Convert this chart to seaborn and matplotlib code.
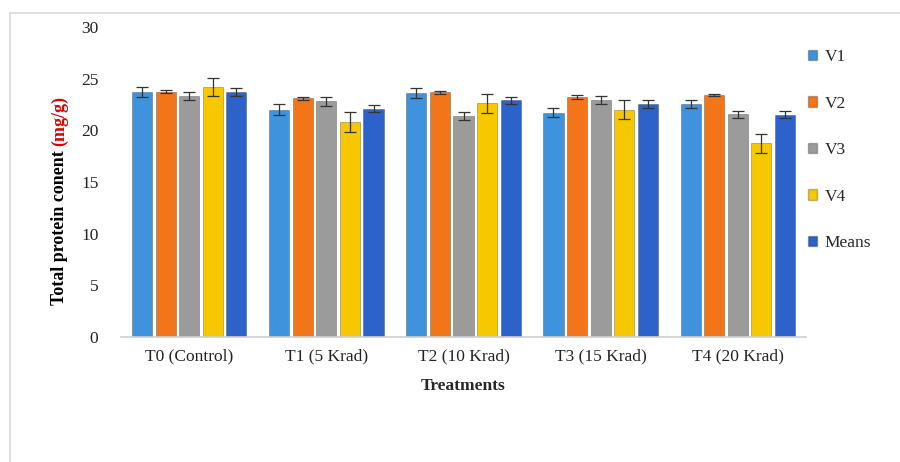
import numpy as np
import pandas as pd
import matplotlib.pyplot as plt
import seaborn as sns
from matplotlib.patches import Patch, Rectangle

# data
treatments = ['T0 (Control)', 'T1 (5 Krad)', 'T2 (10 Krad)', 'T3 (15 Krad)', 'T4 (20 Krad)']
series = ['V1', 'V2', 'V3', 'V4', 'Means']
v1 = [23.7, 22.0, 23.6, 21.7, 22.55]
v2 = [23.75, 23.1, 23.7, 23.2, 23.45]
v3 = [23.3, 22.8, 21.4, 22.9, 21.55]
v4 = [24.2, 20.8, 22.6, 22.0, 18.75]
means = [23.7, 22.1, 22.9, 22.55, 21.5]
err_v1 = [0.5, 0.5, 0.5, 0.45, 0.4]
err_v2 = [0.15, 0.15, 0.15, 0.2, 0.1]
err_v3 = [0.4, 0.4, 0.4, 0.4, 0.35]
err_v4 = [0.85, 1.0, 0.9, 0.9, 0.9]
err_means = [0.4, 0.35, 0.35, 0.35, 0.35]
colors = ['#3F93DC', '#F27519', '#9B9B9B', '#F7C800', '#2D62CB']

values = [v1, v2, v3, v4, means]
errors = [err_v1, err_v2, err_v3, err_v4, err_means]

df = pd.DataFrame({
    'treatment': np.tile(treatments, len(series)),
    'series': np.repeat(series, len(treatments)),
    'value': np.concatenate(values),
})

sns.set_style('white')
plt.rcParams['font.family'] = ['Liberation Serif', 'DejaVu Serif']

fig = plt.figure(figsize=(9, 4.62), dpi=100)
ax = fig.add_axes([0.134, 0.2706, 0.762, 0.671])

sns.barplot(data=df, x='treatment', y='value', hue='series', hue_order=series,
            palette=colors, saturation=1, width=0.86, gap=0.15, errorbar=None,
            legend=False, edgecolor='#00000040', linewidth=0.7, ax=ax)

# error bars on each bar
for cont, err in zip(ax.containers, errors):
    xs = [p.get_x() + p.get_width() / 2 for p in cont]
    hs = [p.get_height() for p in cont]
    ax.errorbar(xs, hs, yerr=err, fmt='none', ecolor='#333333', elinewidth=0.9,
                capsize=4, capthick=0.9)

ax.set_ylim(0, 30)
ax.set_yticks(range(0, 31, 5))
ax.set_xlim(-0.5, 4.5)
ax.tick_params(axis='y', length=0, pad=16, labelsize=12.5, labelcolor='#222222')
ax.tick_params(axis='x', length=0, pad=8, labelsize=12.5, labelcolor='#222222')
for s in ['top', 'right', 'left']:
    ax.spines[s].set_visible(False)
ax.spines['bottom'].set_color('#d0d0d0')
ax.spines['bottom'].set_linewidth(1.2)

ax.set_xlabel('Treatments', fontsize=12.5, fontweight='bold', labelpad=10)
ax.set_ylabel('')

# two-coloured y label
ysplit = 1 - 146 / 462
fig.text(0.066, ysplit, 'Total protein conent ', rotation=90, ha='center', va='top',
         fontsize=13, fontweight='bold', color='black')
fig.text(0.066, ysplit, '(mg/g)', rotation=90, ha='center', va='bottom',
         fontsize=13, fontweight='bold', color='#e00000')

handles = [Patch(facecolor=c, edgecolor='#00000040') for c in colors]
fig.legend(handles, series, loc='upper left', bbox_to_anchor=(0.89, 0.909),
           frameon=False, fontsize=12.5, labelspacing=1.76, handlelength=0.55,
           handleheight=0.55, handletextpad=0.4, borderaxespad=0)

# light frame around the chart area
fig.patches.append(Rectangle((10 / 900, -0.05), 1.2, 1 - 13 / 462 + 0.05,
                             transform=fig.transFigure, fill=False,
                             edgecolor='#d9d9d9', linewidth=1.2))

fig.savefig('out.png', dpi=100)
